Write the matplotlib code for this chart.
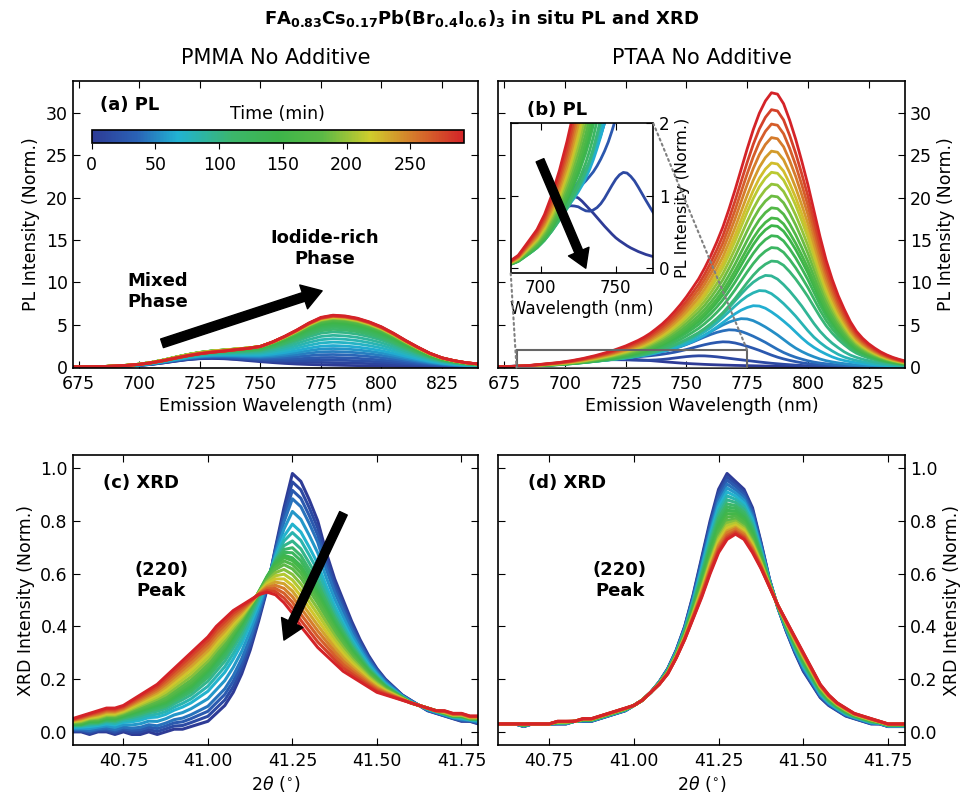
import numpy as np
import matplotlib
matplotlib.use("Agg")
import matplotlib.pyplot as plt
from matplotlib.colors import LinearSegmentedColormap, Normalize
from matplotlib.cm import ScalarMappable
from matplotlib.patches import Rectangle, ConnectionPatch

# ---------------- (a) PMMA PL, 5 nm grid ----------------
WL_A = [670, 675, 680, 685, 690, 695, 700, 705, 710, 715, 720, 725, 730, 735, 740, 745,
        750, 755, 760, 765, 770, 775, 780, 785, 790, 795, 800, 805, 810, 815, 820, 825,
        830, 835, 840, 845]
A_IOD_SHAPE = [0.0, 0.002, 0.004, 0.006, 0.01, 0.015, 0.02, 0.03, 0.04, 0.055, 0.07, 0.09,
               0.115, 0.145, 0.19, 0.24, 0.30, 0.41, 0.54, 0.68, 0.83, 0.95, 1.0, 0.99,
               0.95, 0.88, 0.785, 0.66, 0.52, 0.39, 0.27, 0.18, 0.125, 0.085, 0.06, 0.04]
A_MIX_SHAPE = [0.0, 0.005, 0.01, 0.02, 0.05, 0.1, 0.18, 0.3, 0.48, 0.68, 0.86, 0.97, 1.0,
               0.96, 0.86, 0.73, 0.6, 0.48, 0.37, 0.28, 0.21, 0.16, 0.12, 0.09, 0.07, 0.05,
               0.04, 0.03, 0.02, 0.015, 0.01, 0.01, 0.005, 0.0, 0.0, 0.0]
A_TIME = [0, 9, 18, 27, 37, 46, 55, 64, 73, 82, 91, 100, 110, 119, 128, 137, 146, 155,
          164, 173, 182, 192, 201, 210, 219, 228, 237, 246, 255, 264, 274, 283, 292]
A_IOD_AMP = [0.1, 0.4, 0.7, 1.0, 1.35, 1.7, 2.05, 2.4, 2.8, 3.2, 3.6, 4.0, 4.3, 4.55, 4.75,
             4.95, 5.1, 5.25, 5.35, 5.45, 5.55, 5.6, 5.65, 5.7, 5.75, 5.8, 5.82, 5.85, 5.88,
             5.9, 5.92, 5.95, 6.0]
A_MIX_AMP = [1.0, 1.0, 1.02, 1.04, 1.06, 1.08, 1.1, 1.12, 1.14, 1.16, 1.18, 1.2, 1.22, 1.24,
             1.26, 1.27, 1.28, 1.28, 1.28, 1.27, 1.26, 1.25, 1.23, 1.21, 1.19, 1.17, 1.15,
             1.13, 1.11, 1.09, 1.07, 1.06, 1.05]

# ---------------- (b) PTAA PL, 2.5 nm grid ----------------
WL_B = [670, 672.5, 675, 677.5, 680, 682.5, 685, 687.5, 690, 692.5,
        695, 697.5, 700, 702.5, 705, 707.5, 710, 712.5, 715, 717.5,
        720, 722.5, 725, 727.5, 730, 732.5, 735, 737.5, 740, 742.5,
        745, 747.5, 750, 752.5, 755, 757.5, 760, 762.5, 765, 767.5,
        770, 772.5, 775, 777.5, 780, 782.5, 785, 787.5, 790, 792.5,
        795, 797.5, 800, 802.5, 805, 807.5, 810, 812.5, 815, 817.5,
        820, 822.5, 825, 827.5, 830, 832.5, 835, 837.5, 840, 842.5,
        845]
B_RED_SHAPE = [0.0, 0.001, 0.001, 0.002, 0.003, 0.004, 0.005, 0.007, 0.009, 0.011,
               0.013, 0.015, 0.018, 0.021, 0.025, 0.029, 0.034, 0.039, 0.045, 0.051,
               0.058, 0.066, 0.074, 0.084, 0.094, 0.106, 0.12, 0.137, 0.155, 0.176,
               0.2, 0.226, 0.255, 0.287, 0.32, 0.36, 0.405, 0.455, 0.51, 0.575,
               0.645, 0.72, 0.795, 0.865, 0.925, 0.97, 1.0, 0.995, 0.96, 0.9,
               0.83, 0.75, 0.665, 0.57, 0.475, 0.39, 0.32, 0.26, 0.21, 0.165,
               0.13, 0.105, 0.085, 0.069, 0.055, 0.044, 0.035, 0.028, 0.022, 0.018,
               0.014]
B_EARLY_SHAPE = [0.0, 0.0, 0.0, 0.0, 0.0, 0.0, 0.0, 0.0, 0.0, 0.0,
                 0.0, 0.0, 0.0, 0.002, 0.003, 0.004, 0.005, 0.006, 0.008, 0.01,
                 0.012, 0.016, 0.022, 0.03, 0.05, 0.09, 0.15, 0.23, 0.33, 0.45,
                 0.58, 0.71, 0.83, 0.92, 0.98, 1.0, 0.98, 0.94, 0.88, 0.81,
                 0.74, 0.67, 0.6, 0.53, 0.46, 0.4, 0.34, 0.29, 0.24, 0.2,
                 0.16, 0.13, 0.1, 0.08, 0.06, 0.045, 0.035, 0.025, 0.02, 0.015,
                 0.01, 0.008, 0.006, 0.005, 0.004, 0.003, 0.002, 0.001, 0.0, 0.0,
                 0.0]
B_MIX_SHAPE = [0.0, 0.015, 0.03, 0.05, 0.08, 0.115, 0.16, 0.21, 0.27, 0.33,
               0.4, 0.47, 0.54, 0.61, 0.69, 0.765, 0.84, 0.9, 0.95, 0.985,
               1.0, 0.99, 0.97, 0.925, 0.87, 0.815, 0.76, 0.7, 0.64, 0.58,
               0.525, 0.47, 0.42, 0.38, 0.345, 0.31, 0.28, 0.255, 0.23, 0.21,
               0.19, 0.175, 0.16, 0.145, 0.13, 0.115, 0.1, 0.09, 0.08, 0.07,
               0.06, 0.055, 0.05, 0.045, 0.04, 0.035, 0.03, 0.025, 0.02, 0.018,
               0.015, 0.012, 0.01, 0.01, 0.01, 0.007, 0.005, 0.002, 0.0, 0.0,
               0.0]
B_TIME = [0, 13, 27, 40, 53, 66, 80, 93, 106, 119, 133, 146, 159, 172, 186, 199, 212, 225,
          239, 252, 265, 278, 292]
B_RED_AMP = [0.0, 0.0, 2.85, 4.3, 5.65, 7.2, 9.0, 10.8, 12.5, 14.1, 15.5, 16.7, 17.6, 18.8,
             20.2, 21.6, 23.0, 24.1, 25.5, 27.1, 28.7, 30.4, 32.4]
B_SHIFT = [0, 0, -8, -7, -5, -3, -2, -1, 0, 0, 0, 0, 0, 0, 0, 0, 0, 0, 0, 0, 0, 0, 0]
B_EARLY_AMP = [0.0, 1.05, 0.0, 0.0, 0.0, 0.0, 0.0, 0.0, 0.0, 0.0, 0.0, 0.0, 0.0, 0.0, 0.0,
               0.0, 0.0, 0.0, 0.0, 0.0, 0.0, 0.0, 0.0]
B_MIX_AMP = [1.0, 0.85, 0.55, 0.45, 0.35, 0.3, 0.25, 0.2, 0.2, 0.15, 0.15, 0.1, 0.1, 0.1,
             0.1, 0.1, 0.1, 0.1, 0.1, 0.1, 0.1, 0.1, 0.1]

# ---------------- (c), (d) XRD (220) peak ----------------
TTH = [40.600, 40.625, 40.650, 40.675, 40.700, 40.725, 40.750, 40.775, 40.800, 40.825,
       40.850, 40.875, 40.900, 40.925, 40.950, 40.975, 41.000, 41.025, 41.050, 41.075,
       41.100, 41.125, 41.150, 41.175, 41.200, 41.225, 41.250, 41.275, 41.300, 41.325,
       41.350, 41.375, 41.400, 41.425, 41.450, 41.475, 41.500, 41.525, 41.550, 41.575,
       41.600, 41.625, 41.650, 41.675, 41.700, 41.725, 41.750, 41.775, 41.800]
C_FIRST = [0.00, 0.00, -0.01, 0.00, 0.00, -0.01, 0.00, -0.01, -0.01, 0.00,
           -0.01, 0.00, 0.01, 0.01, 0.02, 0.03, 0.04, 0.07, 0.10, 0.15,
           0.22, 0.31, 0.42, 0.54, 0.70, 0.85, 0.98, 0.95, 0.88, 0.80,
           0.68, 0.58, 0.50, 0.42, 0.35, 0.29, 0.24, 0.20, 0.17, 0.14,
           0.12, 0.10, 0.08, 0.07, 0.06, 0.05, 0.04, 0.04, 0.03]
C_MID = [0.03, 0.03, 0.04, 0.04, 0.05, 0.05, 0.06, 0.07, 0.08, 0.09,
         0.10, 0.11, 0.13, 0.15, 0.17, 0.20, 0.23, 0.27, 0.31, 0.36,
         0.41, 0.47, 0.53, 0.59, 0.64, 0.67, 0.66, 0.63, 0.58, 0.53,
         0.47, 0.41, 0.36, 0.31, 0.27, 0.23, 0.20, 0.17, 0.15, 0.13,
         0.11, 0.10, 0.09, 0.08, 0.07, 0.06, 0.06, 0.05, 0.05]
C_LAST = [0.05, 0.06, 0.07, 0.08, 0.09, 0.09, 0.10, 0.12, 0.14, 0.16,
          0.18, 0.21, 0.24, 0.27, 0.30, 0.33, 0.36, 0.40, 0.43, 0.46,
          0.48, 0.50, 0.52, 0.53, 0.52, 0.49, 0.45, 0.40, 0.36, 0.32,
          0.29, 0.26, 0.23, 0.21, 0.19, 0.17, 0.15, 0.14, 0.13, 0.12,
          0.11, 0.10, 0.09, 0.08, 0.08, 0.07, 0.07, 0.06, 0.06]
D_FIRST = [0.03, 0.03, 0.03, 0.02, 0.03, 0.03, 0.03, 0.03, 0.03, 0.04,
           0.04, 0.04, 0.05, 0.06, 0.07, 0.08, 0.10, 0.12, 0.15, 0.19,
           0.24, 0.31, 0.40, 0.52, 0.66, 0.80, 0.92, 0.98, 0.95, 0.92,
           0.85, 0.72, 0.58, 0.47, 0.38, 0.30, 0.23, 0.18, 0.13, 0.10,
           0.08, 0.06, 0.05, 0.04, 0.03, 0.03, 0.02, 0.02, 0.02]
D_LAST = [0.03, 0.03, 0.03, 0.03, 0.03, 0.03, 0.03, 0.04, 0.04, 0.04,
          0.05, 0.05, 0.06, 0.07, 0.08, 0.09, 0.10, 0.12, 0.15, 0.18,
          0.22, 0.28, 0.35, 0.43, 0.51, 0.60, 0.68, 0.73, 0.75, 0.73,
          0.68, 0.62, 0.55, 0.48, 0.42, 0.36, 0.30, 0.24, 0.18, 0.14,
          0.11, 0.09, 0.07, 0.06, 0.05, 0.04, 0.03, 0.03, 0.03]
XRD_TIME = [0, 14, 28, 42, 56, 70, 83, 97, 111, 125, 139, 153, 167, 181, 195, 209, 222,
            236, 250, 264, 278, 292]
# 0 = first scan shape, 1 = mid (green) shape, 2 = last scan shape
C_STAGE = [0.0, 0.1, 0.2, 0.3, 0.45, 0.6, 0.7, 0.8, 0.88, 0.94, 1.0, 1.05, 1.12, 1.2,
           1.3, 1.4, 1.5, 1.6, 1.7, 1.8, 1.9, 2.0]
D_WEIGHT = [0.0, 0.05, 0.1, 0.16, 0.22, 0.28, 0.34, 0.4, 0.46, 0.51, 0.56, 0.61, 0.66,
            0.71, 0.75, 0.79, 0.83, 0.87, 0.9, 0.94, 0.97, 1.0]

CMAP_COLORS = ["#2e3b96", "#2a62b6", "#21b3d3", "#3cb66a", "#3db54a", "#5bb946",
               "#d0cd2c", "#d5762b", "#d42328"]
CMAP_STOPS = [0.0, 0.12, 0.23, 0.38, 0.5, 0.62, 0.75, 0.87, 1.0]
T_MAX = 292

plt.rcParams.update({
    "font.family": "DejaVu Sans",
    "font.size": 12.5,
    "xtick.direction": "in",
    "ytick.direction": "in",
    "xtick.top": True,
    "ytick.right": True,
    "xtick.major.size": 5,
    "ytick.major.size": 5,
    "xtick.major.pad": 5,
    "axes.linewidth": 1.2,
})

cmap = LinearSegmentedColormap.from_list("time", list(zip(CMAP_STOPS, CMAP_COLORS)))
norm = Normalize(0, T_MAX)

fig = plt.figure(figsize=(9.64, 7.94), dpi=100)
ax_a = fig.add_axes([0.0754, 0.5365, 0.4208, 0.3615])
ax_b = fig.add_axes([0.5169, 0.5365, 0.4219, 0.3615])
ax_c = fig.add_axes([0.0754, 0.0617, 0.4208, 0.3652])
ax_d = fig.add_axes([0.5169, 0.0617, 0.4219, 0.3652])

# (a)
for t, ai, mi in zip(A_TIME, A_IOD_AMP, A_MIX_AMP):
    y = ai * np.array(A_IOD_SHAPE) + mi * np.array(A_MIX_SHAPE)
    ax_a.plot(WL_A, y, color=cmap(norm(t)), lw=2)

# (b) main + inset
axins = fig.add_axes([0.5298, 0.6558, 0.1479, 0.1889])
red = np.array(B_RED_SHAPE)
for t, r, s, e, m in zip(B_TIME, B_RED_AMP, B_SHIFT, B_EARLY_AMP, B_MIX_AMP):
    y = r * np.roll(red, s) + e * np.array(B_EARLY_SHAPE) + m * np.array(B_MIX_SHAPE)
    ax_b.plot(WL_B, y, color=cmap(norm(t)), lw=2)
    axins.plot(WL_B, y, color=cmap(norm(t)), lw=2)

for ax in (ax_a, ax_b):
    ax.set_xlim(672.5, 840)
    ax.set_ylim(-0.12, 33.8)
    ax.set_xticks([675, 700, 725, 750, 775, 800, 825])
    ax.set_yticks([0, 5, 10, 15, 20, 25, 30])
    ax.set_xlabel("Emission Wavelength (nm)", labelpad=3)
    ax.set_ylabel("PL Intensity (Norm.)")
ax_b.yaxis.set_label_position("right")
ax_b.tick_params(labelleft=False, labelright=True)

ax_a.set_title("PMMA No Additive", pad=12)
ax_b.set_title("PTAA No Additive", pad=12)

ax_a.text(0.067, 0.916, "(a) PL", transform=ax_a.transAxes, fontweight="bold",
          fontsize=13, va="center")
ax_b.text(0.071, 0.899, "(b) PL", transform=ax_b.transAxes, fontweight="bold",
          fontsize=13, va="center")
ax_a.text(0.209, 0.267, "Mixed\nPhase", transform=ax_a.transAxes, fontweight="bold",
          fontsize=13, ha="center", va="center", linespacing=1.2)
ax_a.text(0.621, 0.417, "Iodide-rich\nPhase", transform=ax_a.transAxes, fontweight="bold",
          fontsize=13, ha="center", va="center", linespacing=1.2)
ax_a.annotate("", xy=(775.5, 9.0), xytext=(709.4, 2.8),
              arrowprops=dict(facecolor="black", edgecolor="black", width=6.5,
                              headwidth=18, headlength=14, shrink=0))

# colorbar inside (a)
cax = fig.add_axes([0.0951, 0.8195, 0.3862, 0.0168])
cb = fig.colorbar(ScalarMappable(norm=norm, cmap=cmap), cax=cax, orientation="horizontal")
cb.set_ticks([0, 50, 100, 150, 200, 250])
cax.tick_params(direction="out", length=4, top=False, labelsize=12.5)
cb.outline.set_linewidth(1.2)
cax.text(0.5, 1.55, "Time (min)", transform=cax.transAxes, ha="center", va="bottom",
         fontsize=12.5)

# inset
axins.set_xlim(680, 775)
axins.set_ylim(-0.07, 2.0)
axins.set_xticks([700, 750])
axins.set_yticks([0, 1, 2])
axins.tick_params(labelleft=False, labelright=True, labelsize=12, pad=4)
axins.yaxis.set_label_position("right")
axins.set_ylabel("PL Intensity (Norm.)", fontsize=11.5)
axins.set_xlabel("Wavelength (nm)", fontsize=12, labelpad=2)
for s in axins.spines.values():
    s.set_linewidth(1.2)
axins.annotate("", xy=(730, 0.0), xytext=(699.5, 1.49),
               arrowprops=dict(facecolor="black", edgecolor="black", width=6,
                               headwidth=16, headlength=13, shrink=0))
ax_b.add_patch(Rectangle((680, -0.07), 95, 2.07, fill=False, ec="0.4", lw=1.5, zorder=5))
for xa, xb in (((1, 1), (775, 2.0)), ((0, 0), (680, -0.07))):
    con = ConnectionPatch(xyA=xa, coordsA=axins.transAxes, xyB=xb, coordsB=ax_b.transData,
                          ls=":", color="0.5", lw=1.5)
    fig.add_artist(con)

# (c), (d) XRD
c_first, c_mid, c_last = np.array(C_FIRST), np.array(C_MID), np.array(C_LAST)
for t, st in zip(XRD_TIME, C_STAGE):
    if st <= 1:
        y = (1 - st) * c_first + st * c_mid
    else:
        y = (2 - st) * c_mid + (st - 1) * c_last
    ax_c.plot(TTH, y, color=cmap(norm(t)), lw=2.2)
for t, w in zip(XRD_TIME, D_WEIGHT):
    y = (1 - w) * np.array(D_FIRST) + w * np.array(D_LAST)
    ax_d.plot(TTH, y, color=cmap(norm(t)), lw=2.2)

for ax in (ax_c, ax_d):
    ax.set_xlim(40.6, 41.8)
    ax.set_ylim(-0.05, 1.05)
    ax.set_xticks([40.75, 41.00, 41.25, 41.50, 41.75])
    ax.set_xticklabels(["40.75", "41.00", "41.25", "41.50", "41.75"])
    ax.set_yticks([0.0, 0.2, 0.4, 0.6, 0.8, 1.0])
    ax.set_xlabel(r"2$\theta$ ($^{\circ}$)", labelpad=3)
    ax.set_ylabel("XRD Intensity (Norm.)")
ax_d.yaxis.set_label_position("right")
ax_d.tick_params(labelleft=False, labelright=True)

ax_c.text(0.074, 0.902, "(c) XRD", transform=ax_c.transAxes, fontweight="bold",
          fontsize=13, va="center")
ax_d.text(0.074, 0.902, "(d) XRD", transform=ax_d.transAxes, fontweight="bold",
          fontsize=13, va="center")
ax_c.text(0.219, 0.566, "(220)\nPeak", transform=ax_c.transAxes, fontweight="bold",
          fontsize=13, ha="center", va="center", linespacing=1.2)
ax_d.text(0.299, 0.566, "(220)\nPeak", transform=ax_d.transAxes, fontweight="bold",
          fontsize=13, ha="center", va="center", linespacing=1.2)
ax_c.annotate("", xy=(41.225, 0.348), xytext=(41.401, 0.829),
              arrowprops=dict(facecolor="black", edgecolor="black", width=6,
                              headwidth=17, headlength=14, shrink=0))

fig.text(0.5, 0.977, r"FA$_{\mathbf{0.83}}$Cs$_{\mathbf{0.17}}$Pb(Br$_{\mathbf{0.4}}$"
         r"I$_{\mathbf{0.6}}$)$_{\mathbf{3}}$ in situ PL and XRD",
         ha="center", va="center", fontweight="bold", fontsize=13)

fig.savefig("out.png", dpi=100)
